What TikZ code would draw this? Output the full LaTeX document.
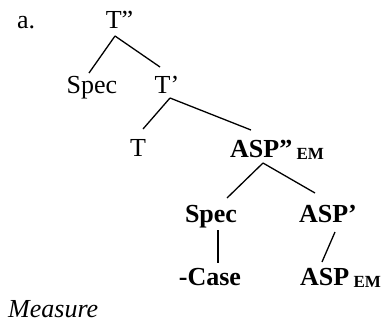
\documentclass[tikz,border=0pt]{standalone}
\usepackage{fontspec}
\setmainfont{Liberation Serif}
\begin{document}
\begin{tikzpicture}[x=1bp,y=-1bp,
  lab/.style={inner sep=0pt,anchor=base,font=\fontsize{26bp}{30bp}\selectfont},
  labw/.style={lab,anchor=base west},
  bf/.style={font=\fontsize{26bp}{30bp}\selectfont\bfseries},
  edge/.style={line width=1.3bp,black}]
\useasboundingbox (0,0) rectangle (383,322);
\newcommand{\emsub}{\raisebox{-2.5bp}{\fontsize{17bp}{17bp}\selectfont\bfseries EM}}
\node[labw] (a) at (17,28) {a.};
\node[lab] (Tpp) at (119.5,28) {T”};
\node[lab] (Spec1) at (92,93) {Spec};
\node[lab] (Tp) at (167,93) {T’};
\node[lab] (T) at (138,156) {T};
\node[labw,bf] (ASPpp) at (230,157) {ASP”\,\emsub};
\node[lab,bf] (Spec2) at (211,222) {Spec};
\node[lab,bf] (ASPp) at (328,222) {ASP’};
\node[lab,bf] (Case) at (210,285) {-Case};
\node[labw,bf] (ASPem) at (300,285) {ASP\,\emsub};
\node[labw,font=\fontsize{26bp}{30bp}\selectfont\itshape] (Meas) at (8,317) {Measure};
\draw[edge] ([shift={(-4.5,8)}]Tpp.base) -- ([shift={(-3,-20)}]Spec1.base);
\draw[edge] ([shift={(-4.5,8)}]Tpp.base) -- ([shift={(-7,-26)}]Tp.base);
\draw[edge] ([shift={(3,5)}]Tp.base) -- ([shift={(5,-27)}]T.base);
\draw[edge] ([shift={(3,5)}]Tp.base) -- ([shift={(21,-27)}]ASPpp.base west);
\draw[edge] ([shift={(33,6)}]ASPpp.base west) -- ([shift={(16,-24)}]Spec2.base);
\draw[edge] ([shift={(33,6)}]ASPpp.base west) -- ([shift={(-13,-29)}]ASPp.base);
\draw[edge] ([shift={(7,8)}]Spec2.base) -- ([shift={(8,-22)}]Case.base);
\draw[edge] ([shift={(7,10)}]ASPp.base) -- ([shift={(22,-23)}]ASPem.base west);
\end{tikzpicture}
\end{document}
